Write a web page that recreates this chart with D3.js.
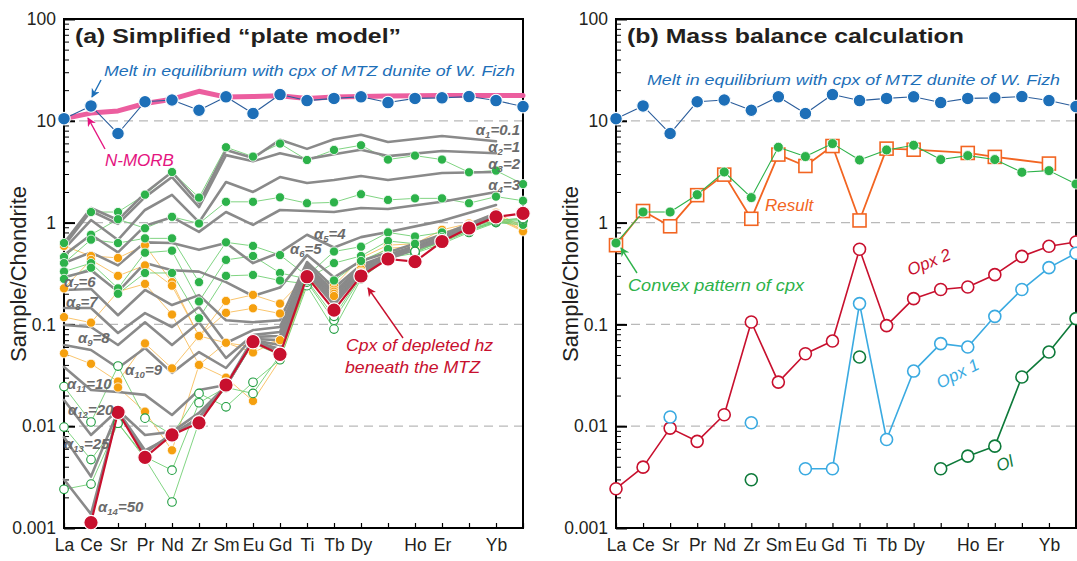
<!DOCTYPE html>
<html>
<head>
<meta charset="utf-8">
<script src="https://cdn.jsdelivr.net/npm/d3@7"></script>
<style>
  body { margin: 0; background: #fff; }
  svg { display: block; }
  text { font-family: "Liberation Sans", Arial, sans-serif; }
</style>
</head>
<body>
<svg id="chart" width="1077" height="561"></svg>
<script>
// ---- element order and axis labels ----
const elements = ["La","Ce","Sr","Pr","Nd","Zr","Sm","Eu","Gd","Ti","Tb","Dy","Y","Ho","Er","Tm","Yb","Lu"];
const tickLabels = ["La","Ce","Sr","Pr","Nd","Zr","Sm","Eu","Gd","Ti","Tb","Dy","","Ho","Er","","Yb",""];
const yMajorTicks = [0.001, 0.01, 0.1, 1, 10, 100];
const yTickText = ["0.001", "0.01", "0.1", "1", "10", "100"];

// ---- melt in equilibrium with cpx of MTZ dunite (W. Fizh) ----
const meltFizh = [10.5,14.0,7.5,15.4,16.0,12.7,17.2,11.8,18.1,15.8,16.6,17.2,15.1,16.6,16.8,17.3,15.8,13.8];
// ---- N-MORB ----
const nMorb = [10.5,11.9,12.5,14.8,16.3,19.5,17.1,17.3,17.6,16.6,17.1,17.3,17.5,17.6,17.7,17.7,17.7,17.7];

// ---- plate-model melts, alpha = 0.1 ... 50 (Ho, Tm, Lu not modelled) ----
const alphaNames = ["1","2","3","4","5","6","7","8","9","10","11","12","13","14"];
const alphaValues = ["0.1","1","2","3","4","5","6","7","8","9","10","20","25","50"];
const alpha1  = [0.63,1.39,1.06,1.95,3.14,1.56,5.16,4.3,6.5,5.3,6.6,7.3,6.2,null,7.1,null,6.3,null];
const alpha2  = [0.59,1.3,0.97,1.78,2.8,1.42,4.6,4.0,4.8,4.2,4.7,5.2,4.5,null,5.05,null,4.8,null];
const alpha3  = [0.55,1.06,0.675,1.33,1.87,1.01,2.5,2.0,2.8,2.45,2.62,2.87,2.62,null,3.07,null,3.14,null];
const alpha4  = [0.48,0.76,0.51,0.93,1.13,0.81,1.27,0.95,1.33,1.3,1.27,1.39,1.36,null,1.6,null,2.0,null];
const alpha5  = [0.40,0.51,0.38,0.64,0.63,0.54,0.63,0.40,0.51,0.76,0.57,0.72,0.81,null,1.04,null,1.49,null];
const alpha6  = [0.29,0.34,0.21,0.40,0.34,0.33,0.26,0.19,0.23,0.48,0.29,0.42,0.51,null,0.76,null,1.24,null];
const alpha7  = [0.218,0.223,0.123,0.218,0.155,0.194,0.110,0.105,0.110,0.41,0.228,0.383,0.48,null,0.722,null,1.215,null];
const alpha8  = [0.145,0.145,0.0824,0.129,0.0943,0.148,0.0656,0.088,0.0943,0.383,0.208,0.366,0.47,null,0.706,null,1.19,null];
const alpha9  = [0.0987,0.0943,0.0627,0.105,0.0627,0.105,0.0468,0.0788,0.0843,0.366,0.194,0.358,0.459,null,0.706,null,1.19,null];
const alpha10 = [0.0627,0.056,0.0373,0.0587,0.0334,0.0535,0.0373,0.0753,0.077,0.35,0.186,0.35,0.459,null,0.69,null,1.19,null];
const alpha11 = [0.0382,0.0227,0.0217,0.0203,0.0129,0.0227,0.0254,0.072,0.070,0.342,0.177,0.342,0.449,null,0.69,null,1.16,null];
const alpha12 = [0.0181,0.0082,0.0144,0.0082,0.0088,0.0135,0.0248,0.070,0.0627,0.335,0.17,0.335,0.449,null,0.69,null,1.16,null];
const alpha13 = [0.0078,0.0032,0.0141,0.0058,0.008,0.0123,0.0248,0.0686,0.0574,0.327,0.162,0.327,0.449,null,0.675,null,1.16,null];
const alpha14 = [0.003,0.00137,0.0138,0.0055,0.0084,0.0121,0.0248,0.0686,0.0547,0.32,0.155,0.32,0.439,null,0.675,null,1.16,null];
const alphaLines = [alpha1,alpha2,alpha3,alpha4,alpha5,alpha6,alpha7,alpha8,alpha9,alpha10,alpha11,alpha12,alpha13,alpha14];

// ---- cpx of depleted harzburgite beneath the MTZ ----
const cpxDepletedHz = [null,0.00113,0.0137,0.00494,0.0082,0.0108,0.0254,0.0676,0.0508,0.294,0.138,0.299,0.439,0.413,0.652,0.885,1.14,1.23];

// ---- other cpx samples: filled green ----
const cpxGreen1 = [0.63,1.27,1.27,1.88,3.14,1.76,5.5,4.45,5.97,4.12,5.17,5.75,4.16,4.55,4.16,3.12,3.24,2.39];
const cpxGreen2 = [0.46,0.76,1.08,0.88,1.14,0.98,1.6,1.6,1.77,1.55,1.58,1.9,1.67,1.73,1.73,1.55,1.8,1.64];
const cpxGreen3 = [0.40,0.68,0.63,0.70,0.70,0.26,0.64,0.59,0.48,0.30,0.52,0.58,0.80,0.73,0.80,0.90,1.05,1.10];
const cpxGreen4 = [0.33,0.40,0.226,0.506,0.53,0.168,0.43,0.47,0.32,0.28,0.40,0.47,0.66,0.62,0.72,0.88,1.02,0.98];
const cpxGreen5 = [0.28,0.36,0.20,0.32,0.32,0.115,0.30,0.306,0.27,0.25,0.27,0.42,0.55,0.50,0.68,0.85,1.0,0.95];
// ---- other cpx samples: open green ----
const cpxOpen1 = [0.0245,0.011,0.039,0.012,0.0082,0.021,0.0155,0.027,0.045,0.24,0.09,0.28,0.45,0.50,0.62,0.80,1.0,1.05];
const cpxOpen2 = [0.0098,0.0047,0.0107,0.0050,0.0037,0.017,0.024,0.021,0.05,0.26,0.11,0.29,0.46,0.52,0.64,0.82,1.02,1.08];
const cpxOpen3 = [0.0024,0.0027,0.0107,0.0048,0.0018,0.011,0.024,0.065,0.05,0.27,0.12,0.30,0.47,0.52,0.65,0.83,1.05,1.1];
// ---- other cpx samples: orange ----
const cpxOrange1 = [0.59,0.47,0.45,0.60,0.26,0.076,0.17,0.195,0.16,0.30,0.24,0.45,0.60,0.62,0.85,0.98,1.25,0.91];
const cpxOrange2 = [0.226,0.43,0.30,0.38,0.24,0.077,0.13,0.144,0.128,0.28,0.22,0.40,0.56,0.58,0.80,0.95,1.2,0.88];
const cpxOrange3 = [0.118,0.104,0.21,0.25,0.125,0.04,0.066,0.06,0.07,0.27,0.21,0.35,0.52,0.55,0.75,0.92,1.15,0.85];
const cpxOrange4 = [0.052,0.041,0.0275,0.065,0.037,0.077,0.066,0.053,0.07,0.26,0.20,0.33,0.50,0.53,0.72,0.90,1.12,0.84];
const cpxOrange5 = [null,null,0.024,0.0139,0.0058,0.04,0.03,0.0177,0.045,0.26,0.19,0.32,0.49,0.52,0.70,0.88,1.1,0.82];

// ---- mass balance (panel b) ----
const convexCpx = [0.63,1.27,1.27,1.88,3.14,1.76,5.5,4.45,5.97,4.12,5.17,5.75,4.16,4.55,4.16,3.12,3.24,2.39];
const massBalanceResult = [0.6,1.30,0.92,1.86,2.96,1.09,4.66,3.6,5.65,1.05,5.33,5.2,null,4.83,4.42,null,3.8,null];
const opx2 = [0.00243,0.00396,0.00958,0.0071,0.01297,0.1055,0.0271,0.0515,0.0686,0.547,0.0972,0.179,0.22,0.233,0.308,0.466,0.585,0.645];
const opx1 = [null,null,0.0123,null,null,0.0108,null,0.00382,0.00382,0.16,0.0074,0.0348,0.0647,0.0599,0.12,0.22,0.361,0.50];
const olivine = [null,null,null,null,null,0.00298,null,null,null,0.0478,null,null,0.00382,0.00508,0.00637,0.0304,0.0535,0.114];

// ---- colours ----
const C = {
  blue: "#1D6FB8", blueLine: "#2C5E9C", pink: "#EC5E9F", pinkText: "#E4157F",
  red: "#C8102E", green: "#2DB24A", greenLine: "#72CF74", greenOpen: "#1E9C3F",
  orange: "#F5A00F", orangeLine: "#F8BE5E", grey: "#8A8A8A", greyText: "#6B6B6B",
  result: "#F26522", opx1: "#3AAAE1", ol: "#0E7A3A"
};

const svg = d3.select("#chart");
const y = d3.scaleLog().domain([0.001, 100]).range([528, 19]);
const xA = d3.scalePoint().domain(elements).range([64, 523]);
const xB = d3.scalePoint().domain(elements).range([616, 1076]);

const defs = svg.append("defs");
function marker(id, color) {
  defs.append("marker").attr("id", id).attr("viewBox", "0 0 10 10")
    .attr("refX", 9).attr("refY", 5).attr("markerWidth", 9).attr("markerHeight", 9)
    .attr("markerUnits", "userSpaceOnUse").attr("orient", "auto")
    .append("path").attr("d", "M0,0 L10,5 L0,10 L3,5 Z").attr("fill", color);
}
marker("arrBlue", C.blue); marker("arrPink", C.pinkText); marker("arrRed", C.red); marker("arrGreen", C.green);

// rows of {e, v}; "present" drops missing elements so the line runs on
const rows = arr => arr.map((v, i) => ({ e: elements[i], v }));
const present = arr => rows(arr).filter(d => d.v != null);

function drawFrame(g, x, titleText, titleLen) {
  const [x0, x1] = x.range();
  // dashed decade lines
  g.selectAll(".grid").data([10, 1, 0.1, 0.01]).join("line")
    .attr("x1", x0).attr("x2", x1).attr("y1", d => y(d)).attr("y2", d => y(d))
    .attr("stroke", "#b9b9b9").attr("stroke-width", 1.2).attr("stroke-dasharray", "9,6");

  // minor y ticks
  const minors = [];
  for (let p = -3; p < 2; p++) for (let m = 2; m <= 9; m++) minors.push(m * Math.pow(10, p));
  g.append("g").attr("transform", `translate(${x0},0)`)
    .call(d3.axisLeft(y).tickValues(minors).tickSize(-5).tickFormat(""))
    .call(a => a.select(".domain").remove())
    .call(a => a.selectAll("line").attr("stroke", "#000").attr("stroke-width", 1));

  // major y ticks and labels
  g.append("g").attr("transform", `translate(${x0},0)`)
    .call(d3.axisLeft(y).tickValues(yMajorTicks).tickSize(-11).tickPadding(8)
      .tickFormat((d, i) => yTickText[i]))
    .call(a => a.select(".domain").remove())
    .call(a => a.selectAll("line").attr("stroke", "#000").attr("stroke-width", 2))
    .call(a => a.selectAll("text").attr("font-size", 17.5).attr("fill", "#231f20")
      .attr("font-family", "Liberation Sans, Arial, sans-serif"));

  // x ticks and element labels
  g.append("g").attr("transform", `translate(0,${y.range()[0]})`)
    .call(d3.axisBottom(x).tickSize(-5).tickPadding(11)
      .tickFormat((d, i) => tickLabels[i]))
    .call(a => a.select(".domain").remove())
    .call(a => a.selectAll("line").attr("stroke", "#000").attr("stroke-width", 1.2))
    .call(a => a.selectAll("text").attr("font-size", 17.5).attr("fill", "#231f20")
      .attr("font-family", "Liberation Sans, Arial, sans-serif"));

  // plot frame
  g.append("rect").attr("x", x0).attr("y", y.range()[1])
    .attr("width", x1 - x0).attr("height", y.range()[0] - y.range()[1])
    .attr("fill", "none").attr("stroke", "#000").attr("stroke-width", 2);

  // axis title
  g.append("text").attr("transform", `translate(${x0 - 38},274) rotate(-90)`)
    .attr("text-anchor", "middle").attr("font-size", 22).attr("fill", "#231f20")
    .text("Sample/Chondrite");

  // panel title
  g.append("text").attr("x", x0 + 11).attr("y", 43)
    .attr("font-family", "DejaVu Sans, sans-serif").attr("font-weight", "bold")
    .attr("font-size", 20).attr("fill", "#231f20")
    .attr("textLength", titleLen).attr("lengthAdjust", "spacingAndGlyphs")
    .text(titleText);
}

function lineOf(x, arr, skipGaps) {
  const gen = d3.line().x(d => x(d.e)).y(d => y(d.v));
  if (skipGaps) return gen(present(arr));
  return gen.defined(d => d.v != null)(rows(arr));
}

function seriesLine(g, x, arr, color, width, skipGaps = true) {
  g.append("path").attr("d", lineOf(x, arr, skipGaps)).attr("fill", "none")
    .attr("stroke", color).attr("stroke-width", width)
    .attr("stroke-linejoin", "round").attr("stroke-linecap", "round");
}

function dots(g, x, arr, r, fill, stroke, sw) {
  g.append("g").selectAll("circle").data(present(arr)).join("circle")
    .attr("cx", d => x(d.e)).attr("cy", d => y(d.v)).attr("r", r)
    .attr("fill", fill).attr("stroke", stroke).attr("stroke-width", sw);
}

function label(g, x, yy, txt, color, size, opts = {}) {
  const t = g.append("text").attr("x", x).attr("y", yy).attr("fill", color)
    .attr("font-size", size).attr("font-style", "italic").text(txt);
  if (opts.len) t.attr("textLength", opts.len).attr("lengthAdjust", "spacingAndGlyphs");
  if (opts.rotate) t.attr("transform", `rotate(${opts.rotate},${x},${yy})`);
  return t;
}

function arrow(g, x1, y1, x2, y2, color, id) {
  g.append("line").attr("x1", x1).attr("y1", y1).attr("x2", x2).attr("y2", y2)
    .attr("stroke", color).attr("stroke-width", 1.4).attr("marker-end", `url(#${id})`);
}

// ================= panel (a) =================
const gA = svg.append("g");
drawFrame(gA, xA, "(a) Simplified \u201Cplate model\u201D", 326);

const plotA = gA.append("g");
const orangeSet = [cpxOrange1, cpxOrange2, cpxOrange3, cpxOrange4, cpxOrange5];
const greenSet = [cpxGreen1, cpxGreen2, cpxGreen3, cpxGreen4, cpxGreen5];
const openSet = [cpxOpen1, cpxOpen2, cpxOpen3];

orangeSet.forEach(s => seriesLine(plotA, xA, s, C.orangeLine, 0.9));
greenSet.forEach(s => seriesLine(plotA, xA, s, C.greenLine, 0.9));
openSet.forEach(s => seriesLine(plotA, xA, s, C.greenLine, 0.9));

alphaLines.forEach(s => seriesLine(plotA, xA, s, C.grey, 2.6));

orangeSet.forEach(s => dots(plotA, xA, s, 4.6, C.orange, "#fff", 0.8));
greenSet.forEach(s => dots(plotA, xA, s, 4.6, C.green, "#fff", 0.8));
openSet.forEach(s => dots(plotA, xA, s, 4.3, "#fff", C.greenOpen, 1.1));

seriesLine(plotA, xA, cpxDepletedHz, C.red, 2.2);
dots(plotA, xA, cpxDepletedHz, 7.2, C.red, "#fff", 1.2);

seriesLine(plotA, xA, nMorb, C.pink, 5);
seriesLine(plotA, xA, meltFizh, C.blueLine, 1.1);
dots(plotA, xA, meltFizh, 6.3, C.blue, "#fff", 1.1);

// alpha labels
const alphaPos = [
  [520, 135, "end"], [520, 152, "end"], [520, 169, "end"], [520, 190, "end"],
  [314, 239, "start"], [290, 254, "start"], [64, 287, "start"], [66, 307, "start"],
  [78, 343, "start"], [125, 375, "start"], [67, 389, "start"], [68, 415, "start"],
  [64, 449, "start"], [98, 512, "start"]
];
alphaPos.forEach((p, i) => {
  const t = plotA.append("text").attr("x", p[0]).attr("y", p[1]).attr("text-anchor", p[2])
    .attr("fill", C.greyText).attr("font-size", 15).attr("font-weight", "bold")
    .attr("font-style", "italic");
  t.append("tspan").text("\u03B1");
  t.append("tspan").attr("font-size", 9.5).attr("dy", 3).text(alphaNames[i]);
  t.append("tspan").attr("dy", -3).text("=" + alphaValues[i]);
});

label(plotA, 104, 76, "Melt in equilibrium with cpx of MTZ dunite of W. Fizh", C.blue, 15.5, { len: 411 });
arrow(plotA, 101, 80, 92, 97, C.blue, "arrBlue");
label(plotA, 105, 166, "N-MORB", C.pinkText, 17);
arrow(plotA, 105, 149, 88, 118, C.pinkText, "arrPink");
label(plotA, 346, 351, "Cpx of depleted hz", C.red, 17, { len: 147 });
label(plotA, 345, 373, "beneath the MTZ", C.red, 17, { len: 135 });
arrow(plotA, 403, 338, 368, 288, C.red, "arrRed");

// ================= panel (b) =================
const gB = svg.append("g");
drawFrame(gB, xB, "(b) Mass balance calculation", 337);
const plotB = gB.append("g");

seriesLine(plotB, xB, meltFizh, C.blueLine, 1.1);
dots(plotB, xB, meltFizh, 6.3, C.blue, "#fff", 1.1);

seriesLine(plotB, xB, massBalanceResult, C.result, 1.8);
plotB.append("g").selectAll("rect").data(present(massBalanceResult)).join("rect")
  .attr("x", d => xB(d.e) - 6.5).attr("y", d => y(d.v) - 6.5)
  .attr("width", 13).attr("height", 13)
  .attr("fill", "#fff").attr("stroke", C.result).attr("stroke-width", 1.6);

seriesLine(plotB, xB, convexCpx, C.green, 1.1);
dots(plotB, xB, convexCpx, 5, C.green, "#fff", 0.8);

seriesLine(plotB, xB, opx2, C.red, 1.6, false);
dots(plotB, xB, opx2, 6, "#fff", C.red, 1.6);
seriesLine(plotB, xB, opx1, C.opx1, 1.6, false);
dots(plotB, xB, opx1, 6, "#fff", C.opx1, 1.6);
seriesLine(plotB, xB, olivine, C.ol, 1.6, false);
dots(plotB, xB, olivine, 6, "#fff", C.ol, 1.6);

label(plotB, 647, 85, "Melt in equilibrium with cpx of MTZ dunite of W. Fizh", C.blue, 15.5, { len: 413 });
label(plotB, 765, 211, "Result", C.result, 17);
label(plotB, 628, 291, "Convex pattern of cpx", C.green, 17, { len: 176 });
arrow(plotB, 637, 273, 621, 248, C.green, "arrGreen");
label(plotB, 910, 276, "Opx 2", C.red, 17, { rotate: -22 });
label(plotB, 940, 389, "Opx 1", C.opx1, 17, { rotate: -27 });
label(plotB, 999, 472, "Ol", C.ol, 17, { rotate: -22 });
</script>
</body>
</html>
